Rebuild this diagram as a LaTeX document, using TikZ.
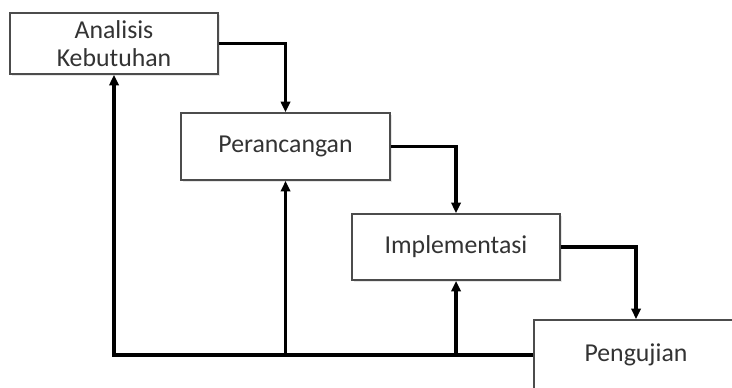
\documentclass[tikz,border=0pt]{standalone}
\usepackage{fontspec}
\setmainfont{Carlito}
\usetikzlibrary{arrows.meta,shadows,positioning}

\tikzset{
  tahap/.style={draw=black!70, line width=1.6pt, fill=white, rectangle,
    minimum width=208*0.03cm, align=center, text=black!80,
    font=\fontsize{22}{24.5}\selectfont,
    drop shadow={opacity=0.2, shadow xshift=0.06cm, shadow yshift=-0.06cm}},
  alur/.style={line width=2.7pt, -{Triangle[length=9pt,width=8pt]}}
}

\begin{document}
\begin{tikzpicture}[x=0.03cm, y=-0.03cm]
\useasboundingbox (0,0) rectangle (732,387);
\clip (0,0) rectangle (732,387);
% tahapan
\node[tahap, minimum height=61*0.03cm] (analisis) at (114,43.5) {Analisis\\Kebutuhan};
\node[tahap, minimum height=67*0.03cm, minimum width=209*0.03cm] (perancangan) at (285.5,146.5) {Perancangan};
\node[tahap, minimum height=66*0.03cm] (implementasi) at (456,247) {Implementasi};
\node[tahap, minimum height=70*0.03cm, minimum width=204*0.03cm] (pengujian) at (636,355) {Pengujian};
% alur maju
\draw[alur] (analisis.east) -| (perancangan.north);
\draw[alur] (perancangan.east) -| (implementasi.north);
\draw[alur] (implementasi.east) -| (pengujian.north);
% alur balik
\draw[alur] (pengujian.west) -| (analisis.south);
\draw[alur] (perancangan.south |- pengujian.west) -- (perancangan.south);
\draw[alur] (implementasi.south |- pengujian.west) -- (implementasi.south);
\end{tikzpicture}
\end{document}
